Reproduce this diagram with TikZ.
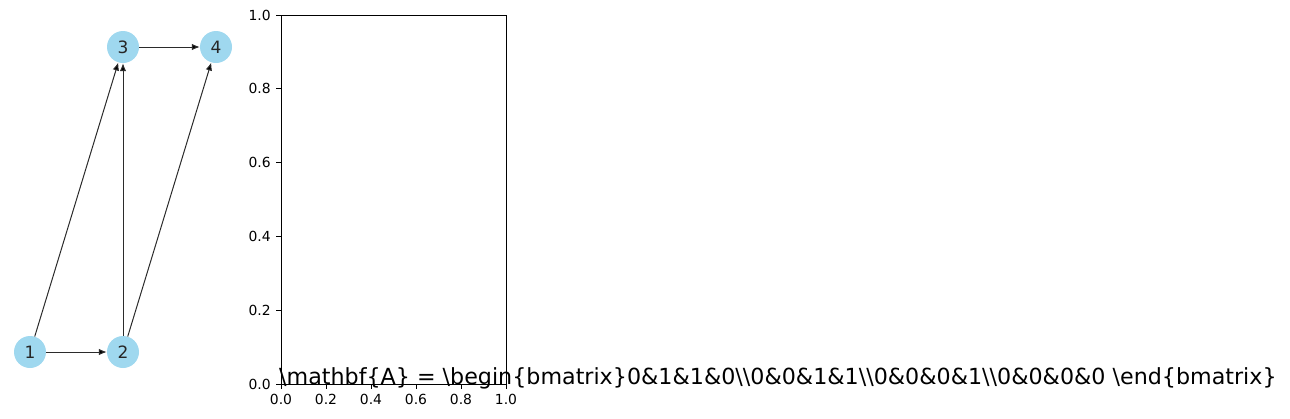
\documentclass[tikz,border=0pt]{standalone}
\usepackage{fontspec}
\setmainfont{DejaVu Sans}
\usetikzlibrary{positioning,arrows.meta}

\definecolor{nodeblue}{HTML}{9FD8EF}
\definecolor{edgegray}{HTML}{2B2B2B}

\tikzset{
  vertex/.style={circle,fill=nodeblue,minimum size=32pt,inner sep=0pt,
    text=black!85,font=\fontsize{17}{18}\selectfont},
  arc/.style={draw=edgegray,line width=1pt,-{Latex[length=8pt,width=6.5pt]}},
  ticklabel/.style={font=\fontsize{13.9}{15}\selectfont,inner sep=0pt},
  eqlabel/.style={font=\fontsize{22.2}{24}\selectfont,inner sep=0pt}
}

\begin{document}
\begin{tikzpicture}[x=1pt,y=-1pt,auto,node distance=305pt and 93pt,on grid]
  \useasboundingbox (0,0) rectangle (1290,418);
  % graph
  \node[vertex] (n1) at (30,352) {1};
  \node[vertex] (n2) [right=of n1] {2};
  \node[vertex] (n3) [above=of n2] {3};
  \node[vertex] (n4) [right=of n3] {4};

  \path[arc] (n1) edge (n2)
                  edge (n3);
  \path[arc] (n2) edge (n3)
                  edge (n4);
  \path[arc] (n3) edge (n4);

  % empty axes
  \draw[line width=0.8pt] (281,15) rectangle (506,384);
  \foreach \v/\t in {0/0.0,1/0.2,2/0.4,3/0.6,4/0.8,5/1.0} {
    \draw[line width=0.8pt] (281,384-73.8*\v) -- (276,384-73.8*\v)
      node[ticklabel,anchor=east,xshift=-4.9pt] {\t};
    \draw[line width=0.8pt] (281+45*\v,384) -- (281+45*\v,389)
      node[ticklabel,anchor=north,yshift=-4.9pt] {\t};
  }

  \node[eqlabel,anchor=base west] (eq) at (279,384)
    {\textbackslash mathbf\{A\} = \textbackslash begin\{bmatrix\}0\&1\&1\&0\textbackslash\textbackslash 0\&0\&1\&1\textbackslash\textbackslash 0\&0\&0\&1\textbackslash\textbackslash 0\&0\&0\&0 \textbackslash end\{bmatrix\}};
\end{tikzpicture}
\end{document}
